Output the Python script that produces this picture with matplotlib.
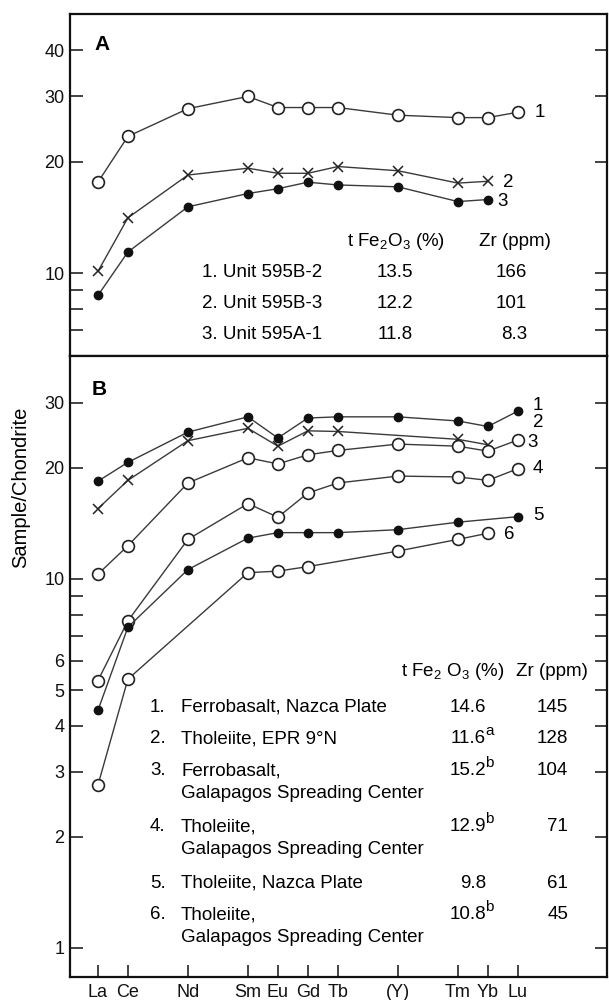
import numpy as np
import matplotlib
matplotlib.use('Agg')
import matplotlib.pyplot as plt
from matplotlib.ticker import FixedLocator, FixedFormatter, NullFormatter

plt.rcParams['font.family'] = ['Liberation Sans', 'DejaVu Sans']
plt.rcParams['mathtext.fontset'] = 'custom'
plt.rcParams['mathtext.rm'] = 'Liberation Sans'
plt.rcParams['mathtext.it'] = 'Liberation Sans:italic'
plt.rcParams['mathtext.bf'] = 'Liberation Sans:bold'

# ---------------- data ----------------
elements = ['La', 'Ce', 'Nd', 'Sm', 'Eu', 'Gd', 'Tb', '(Y)', 'Tm', 'Yb', 'Lu']
atomic_number = [57, 58, 60, 62, 63, 64, 65, 67, 69, 70, 71]   # (Y) plotted at Ho
nan = np.nan

# Panel A
a1 = [17.6, 23.4, 27.8, 30.0, 28.0, 28.0, 28.0, 26.7, 26.3, 26.3, 27.2]
a2 = [10.1, 14.1, 18.4, 19.2, 18.6, 18.6, 19.4, 18.9, 17.5, 17.7, nan]
a3 = [8.7, 11.4, 15.1, 16.4, 16.9, 17.6, 17.3, 17.1, 15.6, 15.8, nan]

# Panel B
b1 = [18.4, 20.7, 25.0, 27.5, 24.1, 27.3, 27.5, 27.5, 26.8, 25.9, 28.5]
b2 = [15.5, 18.5, 23.7, 25.6, 22.9, 25.2, 25.1, nan, 23.9, 23.1, nan]
b3 = [10.3, 12.3, 18.2, 21.3, 20.5, 21.7, 22.3, 23.2, 22.9, 22.2, 23.8]
b4 = [5.3, 7.7, 12.8, 16.0, 14.7, 17.1, 18.2, 19.0, 18.9, 18.5, 19.9]
b5 = [4.4, 7.4, 10.6, 12.9, 13.35, 13.35, 13.35, 13.6, 14.25, nan, 14.75]
b6 = [2.76, 5.35, nan, 10.4, 10.5, 10.8, nan, 11.9, 12.8, 13.3, nan]

a_ticks = [10, 20, 30, 40]
a_minor = [7, 8, 9]
b_ticks = [1, 2, 3, 4, 5, 6, 10, 20, 30]
b_minor = [7, 8, 9]

tableA_names = ['1. Unit 595B-2', '2. Unit 595B-3', '3. Unit 595A-1']
tableA_fe = ['13.5', '12.2', '11.8']
tableA_zr = ['166', '101', '8.3']

tableB_nums = ['1.', '2.', '3.', '4.', '5.', '6.']
tableB_names = [['Ferrobasalt, Nazca Plate'],
                ['Tholeiite, EPR 9°N'],
                ['Ferrobasalt,', 'Galapagos Spreading Center'],
                ['Tholeiite,', 'Galapagos Spreading Center'],
                ['Tholeiite, Nazca Plate'],
                ['Tholeiite,', 'Galapagos Spreading Center']]
tableB_fe = ['14.6', '11.6', '15.2', '12.9', '9.8', '10.8']
tableB_fe_note = ['', 'a', 'b', 'b', '', 'b']
tableB_zr = ['145', '128', '104', '71', '61', '45']

# ---------------- figure ----------------
W, H = 609, 1000
fig = plt.figure(figsize=(W / 100, H / 100), dpi=100)
L, R, TA, MID, BB = 70, 607, 14, 356, 977

def fx(px):
    return px / W

def fy(py):
    return 1 - py / H

axA = fig.add_axes([fx(L), fy(MID), (R - L) / W, (MID - TA) / H])
axB = fig.add_axes([fx(L), fy(BB), (R - L) / W, (BB - MID) / H])

x = np.array(atomic_number, dtype=float)
lc = '#3a3a3a'

def draw(ax, vals, kind):
    y = np.array(vals, dtype=float)
    m = ~np.isnan(y)
    if kind == 'open':
        ax.plot(x[m], y[m], '-', color=lc, lw=1.0, marker='o', ms=8.5,
                mfc='white', mec='#222222', mew=1.2, zorder=3)
    elif kind == 'filled':
        ax.plot(x[m], y[m], '-', color=lc, lw=1.0, marker='o', ms=6,
                mfc='#111111', mec='#111111', zorder=3)
    else:
        ax.plot(x[m], y[m], '-', color=lc, lw=1.0, marker='x', ms=7,
                mec='#222222', mew=1.1, zorder=3)

draw(axA, a1, 'open')
draw(axA, a2, 'x')
draw(axA, a3, 'filled')

draw(axB, b1, 'filled')
draw(axB, b2, 'x')
draw(axB, b3, 'open')
draw(axB, b4, 'open')
draw(axB, b5, 'filled')
draw(axB, b6, 'open')

FS = 13.5
for ax in (axA, axB):
    ax.set_yscale('log')
    ax.set_xlim(56.07, 73.97)
    for s in ax.spines.values():
        s.set_linewidth(1.6)
        s.set_color('#111111')
    ax.tick_params(axis='y', which='both', direction='in', left=True, right=True,
                   length=9, width=1.1, labelsize=13, pad=4, colors='#111111')

axA.set_ylim(5.97, 50.1)
axA.yaxis.set_major_locator(FixedLocator(a_ticks))
axA.yaxis.set_major_formatter(FixedFormatter([str(v) for v in a_ticks]))
axA.yaxis.set_minor_locator(FixedLocator(a_minor))
axA.yaxis.set_minor_formatter(NullFormatter())
axA.tick_params(axis='x', which='both', bottom=False, top=False,
                labelbottom=False)

axB.set_ylim(0.834, 40.2)
axB.yaxis.set_major_locator(FixedLocator(b_ticks))
axB.yaxis.set_major_formatter(FixedFormatter([str(v) for v in b_ticks]))
axB.yaxis.set_minor_locator(FixedLocator(b_minor))
axB.yaxis.set_minor_formatter(NullFormatter())
axB.set_xticks(atomic_number)
axB.set_xticklabels(elements)
axB.xaxis.set_minor_locator(FixedLocator([]))
axB.tick_params(axis='x', which='both', direction='in', bottom=True, top=False,
                length=9, width=1.1, labelsize=13, pad=5, colors='#111111')

# panel letters
axA.text(57.13, 41.5, 'A', fontsize=15, fontweight='bold', ha='center', va='center')
axB.text(57.03, 32.7, 'B', fontsize=15, fontweight='bold', ha='center', va='center')

# curve labels
for txt, xv, yv in [('1', 71.55, 27.2), ('2', 70.5, 17.6), ('3', 70.33, 15.6)]:
    axA.text(xv, yv, txt, fontsize=FS, ha='left', va='center')
for txt, xv, yv in [('1', 71.5, 29.6), ('2', 71.5, 26.5), ('3', 71.3, 23.5),
                    ('4', 71.5, 19.9), ('5', 71.5, 14.9), ('6', 70.55, 13.2)]:
    axB.text(xv, yv, txt, fontsize=FS, ha='left', va='center')

# y label
fig.text(fx(21), fy(487), 'Sample/Chondrite', rotation=90, ha='center',
         va='center', fontsize=14.5)

# table A
fig.text(fx(396), fy(246), 't Fe$_\\mathregular{2}$O$_\\mathregular{3}$ (%)',
         ha='center', va='baseline', fontsize=FS)
fig.text(fx(515), fy(246), 'Zr (ppm)', ha='center', va='baseline', fontsize=FS)
for i, yy in enumerate([277, 308, 339]):
    fig.text(fx(202), fy(yy), tableA_names[i], ha='left', va='baseline', fontsize=FS)
    fig.text(fx(395), fy(yy), tableA_fe[i], ha='center', va='baseline', fontsize=FS)
    fig.text(fx(527), fy(yy), tableA_zr[i], ha='right', va='baseline', fontsize=FS)

# table B
fig.text(fx(453), fy(676), 't Fe$_\\mathregular{2}$ O$_\\mathregular{3}$ (%)',
         ha='center', va='baseline', fontsize=FS)
fig.text(fx(552), fy(676), 'Zr (ppm)', ha='center', va='baseline', fontsize=FS)
row_y = [712, 743, 775, 831, 888, 919]
for i, yy in enumerate(row_y):
    fig.text(fx(150), fy(yy), tableB_nums[i], ha='left', va='baseline', fontsize=FS)
    for j, line in enumerate(tableB_names[i]):
        fig.text(fx(181), fy(yy + 23 * j), line, ha='left', va='baseline', fontsize=FS)
    fig.text(fx(486), fy(yy), tableB_fe[i], ha='right', va='baseline', fontsize=FS)
    if tableB_fe_note[i]:
        fig.text(fx(485.5), fy(yy - 8), tableB_fe_note[i], ha='left', va='baseline',
                 fontsize=FS - 2.5)
    fig.text(fx(568), fy(yy), tableB_zr[i], ha='right', va='baseline', fontsize=FS)

fig.savefig('out.png', dpi=100)
